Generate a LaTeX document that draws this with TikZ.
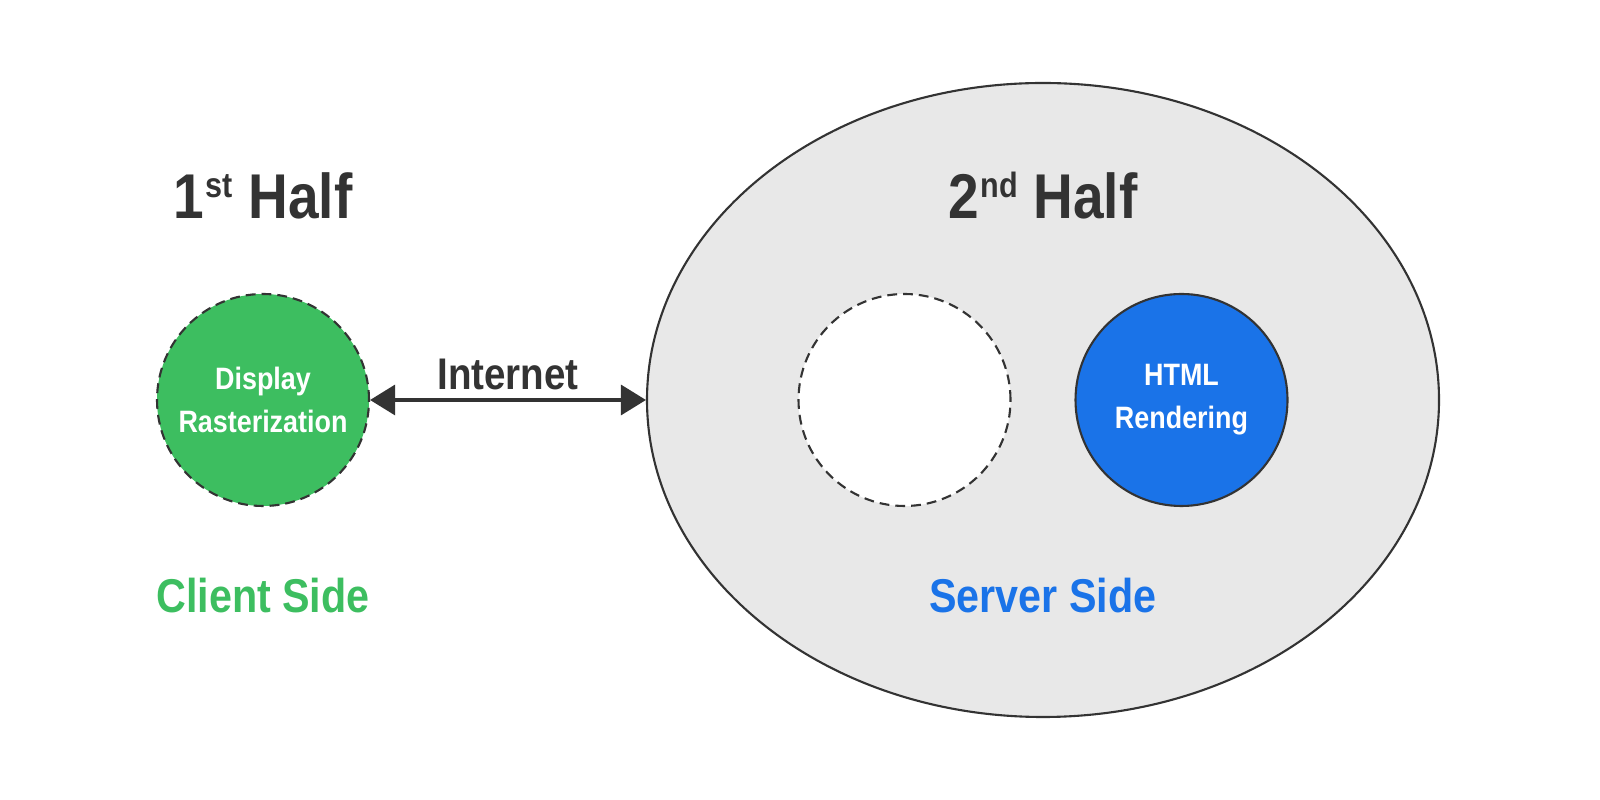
\documentclass[tikz,border=0pt]{standalone}
\usepackage{fontspec}
\setmainfont{Liberation Sans}[FakeStretch=0.87]
\usepackage{tikz}
\usetikzlibrary{positioning, shapes.geometric, arrows.meta}
\definecolor{clientgreen}{HTML}{3DBE60}
\definecolor{serverblue}{HTML}{1A73E8}
\definecolor{servergray}{HTML}{E8E8E8}
\definecolor{darkline}{HTML}{333333}
\tikzstyle{arrow} = [line width=0.9pt,draw=darkline,{Triangle[length=2.5mm,width=3mm]}-{Triangle[length=2.5mm,width=3mm]}]
\newcommand{\halfsup}[1]{\kern0.5pt\raisebox{6.2pt}{\fontsize{10}{11}\selectfont #1}}

\begin{document}
\begin{tikzpicture}[node distance=1.385cm,
			part node/.style={circle, minimum size=2.12cm, inner sep=0pt, line width=0.6pt, draw=darkline, text=white, align=center, font=\fontsize{8.8}{12.3}\selectfont\bfseries},
			half/.style={text=darkline, anchor=base, font=\fontsize{18}{22}\selectfont\bfseries},
			side/.style={anchor=base, font=\fontsize{13.5}{16}\selectfont\bfseries},
			dashes/.style={dash pattern=on 2.8pt off 1.7pt}]
			\useasboundingbox (0,0) rectangle (16,8);
			
			\node[ellipse, minimum width=7.92cm, minimum height=6.34cm, fill=servergray, draw=darkline, line width=0.6pt] (server) at (10.43,4) {};
			
			\node[part node, dashes, fill=white] (empty) [left of=server] {};
			\node[part node, fill=serverblue] (render) [right of=server] {HTML\\Rendering};
			
			\node[part node, dashes, fill=clientgreen] (client) at (2.63,4) {Display\\Rasterization};
			
			\node[half] (first) [above=1.81cm of client.center, anchor=base] {1\halfsup{st} Half};
			\node[half] (second) [above=1.81cm of server.center, anchor=base] {2\halfsup{nd} Half};
			
			\node[side, text=clientgreen] (clientside) [below=2.13cm of client.center, anchor=base] {Client Side};
			\node[side, text=serverblue] (serverside) [below=2.13cm of server.center, anchor=base] {Server Side};
			
			\draw[arrow] (client) -- node[anchor=base, yshift=1mm, text=darkline, font=\fontsize{12.6}{15}\selectfont\bfseries] {Internet} (server);
			
			\end{tikzpicture}
\end{document}
